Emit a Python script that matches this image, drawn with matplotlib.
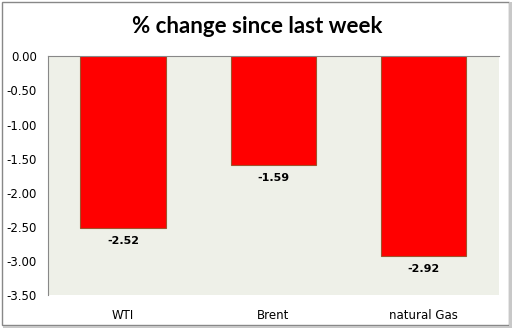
import matplotlib
matplotlib.use('Agg')
import matplotlib.pyplot as plt
from matplotlib.patches import Rectangle

categories = ['WTI', 'Brent', 'natural Gas']
changes = [-2.52, -1.59, -2.92]
y_ticks = [0.0, -0.5, -1.0, -1.5, -2.0, -2.5, -3.0, -3.5]

fig = plt.figure(figsize=(5.14, 3.29), dpi=100)
fig.patch.set_facecolor('white')

# outer frame with a light shadow like the Excel chart
fig.patches.append(Rectangle((0.004, 0.012), 0.986, 0.982, transform=fig.transFigure,
                             fill=False, edgecolor='#888888', linewidth=1.0))
fig.patches.append(Rectangle((0.006, 0.004), 0.988, 0.006, transform=fig.transFigure,
                             facecolor='#c8c8c8', edgecolor='none'))
fig.patches.append(Rectangle((0.990, 0.004), 0.006, 0.99, transform=fig.transFigure,
                             facecolor='#c8c8c8', edgecolor='none'))

ax = fig.add_axes([0.0934, 0.103, 0.877, 0.726])
ax.set_facecolor('#eef0e8')

x = range(len(categories))
ax.bar(x, changes, width=0.57, color='#ff0000', edgecolor='#a0522d', linewidth=0.8, zorder=2)

for i, v in enumerate(changes):
    ax.text(i, v - 0.12, f'{v:.2f}', ha='center', va='top', fontsize=8,
            fontweight='bold', family='DejaVu Sans')

ax.set_xlim(-0.5, 2.5)
ax.set_ylim(-3.5, 0.0)
ax.set_yticks(y_ticks)
ax.set_yticklabels([f'{t:.2f}' for t in y_ticks], fontsize=8.5)
ax.set_xticks(list(x))
ax.set_xticklabels(categories, fontsize=8.5)
ax.tick_params(axis='both', length=0, pad=8)
ax.tick_params(axis='x', pad=10)

for side in ['bottom', 'right']:
    ax.spines[side].set_visible(False)
for side in ['left', 'top']:
    ax.spines[side].set_color('#888888')
    ax.spines[side].set_linewidth(0.8)

fig.text(0.5, 0.918, '% change since last week', ha='center', va='center',
         fontsize=16, fontweight='bold', family='Lato')

fig.savefig('out.png', dpi=100)
